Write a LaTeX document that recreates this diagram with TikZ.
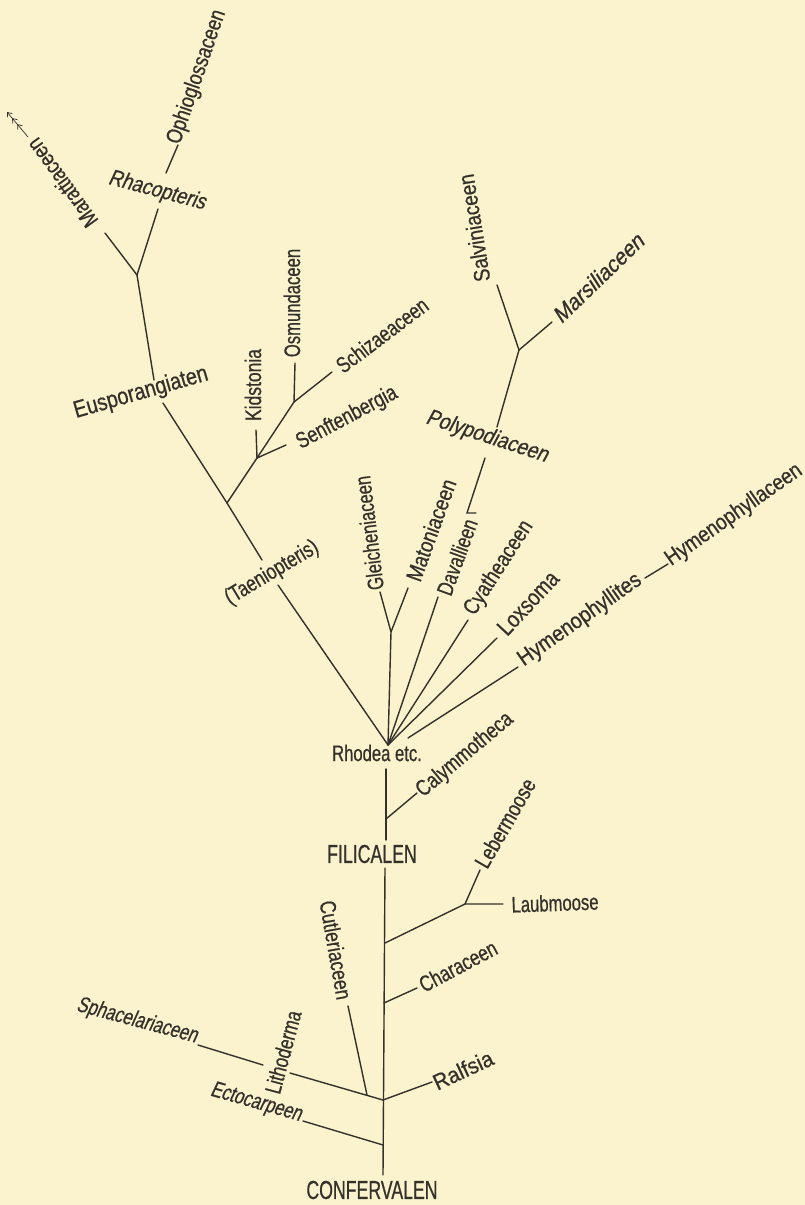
\documentclass[tikz,border=0pt]{standalone}
\usepackage{fontspec}
\setmainfont{Liberation Sans}[FakeStretch=0.74,FakeBold=0.6]
\newfontfamily\slfam{Liberation Sans}[FakeStretch=0.74,FakeSlant=0.16,FakeBold=0.6]
\usetikzlibrary{arrows.meta}
\definecolor{paper}{RGB}{250,243,206}
\definecolor{ink}{RGB}{52,48,42}
\begin{document}
\begin{tikzpicture}[x=1pt,y=-1pt,
  br/.style={draw=ink,line width=1.4pt,line cap=round},
  lab/.style={inner sep=0pt,outer sep=0pt,text=ink,font=\fontsize{22.5}{25}\selectfont},
  slab/.style={lab,font=\fontsize{22.5}{25}\selectfont\slfam},
  big/.style={lab,font=\fontsize{26}{29}\selectfont}]
\fill[paper] (0,0) rectangle (805,1205);
\useasboundingbox (0,0) rectangle (805,1205);

% ---------- coordinates ----------
\coordinate (t0) at (383,1175);
\coordinate (tEcto) at (383,1145);
\coordinate (tSph) at (383,1100);
\coordinate (tChar) at (384,1003);
\coordinate (tLaub) at (385,943);
\coordinate (tF1) at (385,868);
\coordinate (tF2) at (386,840);
\coordinate (tCaly) at (386,819);
\coordinate (tTop) at (386,769);
\coordinate (ecto) at (303,1121);
\coordinate (sphA) at (198,1045);
\coordinate (sphB) at (263,1065);
\coordinate (sphC) at (290,1073);
\coordinate (cutA) at (348,1006);
\coordinate (cutB) at (367,1095);
\coordinate (ralf) at (432,1082);
\coordinate (char) at (417,988);
\coordinate (mossF) at (465,904);
\coordinate (laub) at (503,904);
\coordinate (leber) at (480,870);
\coordinate (caly) at (417,793);
\coordinate (rh) at (388,745);
\coordinate (hyA) at (408,738);
\coordinate (hyB) at (518,667);
\coordinate (hyC) at (645,578);
\coordinate (hyD) at (668,564);
\coordinate (lox) at (497,638);
\coordinate (cya) at (468,620);
\coordinate (dav) at (438,597);
\coordinate (gF) at (391,632);
\coordinate (gl) at (380,592);
\coordinate (mat) at (408,588);
\coordinate (davT) at (476,513);
\coordinate (davT2) at (467,513);
\coordinate (pol1) at (485,458);
\coordinate (pol2) at (497,427);
\coordinate (sF) at (519,350);
\coordinate (salv) at (497,285);
\coordinate (mars) at (552,322);
\coordinate (taeA) at (278,585);
\coordinate (taeB) at (262,560);
\coordinate (kJ) at (227,503);
\coordinate (eus) at (163,403);
\coordinate (kF) at (257,458);
\coordinate (oF) at (294,402);
\coordinate (schz) at (332,372);
\coordinate (kid) at (256,430);
\coordinate (senf) at (286,445);
\coordinate (osm) at (295,363);
\coordinate (eusT) at (154,380);
\coordinate (mF) at (137,275);
\coordinate (mar) at (105,233);
\coordinate (rhL) at (158,209);
\coordinate (rhU) at (166,173);
\coordinate (oph) at (178,145);
\coordinate (arA) at (28,137);
\coordinate (arB) at (7,112);

% ---------- labels ----------
\node[lab,rotate=126,xscale=1.08] (marat) at (62,183) {Marattiaceen};
\node[lab,rotate=71,xscale=1.09] (ophio) at (197,77) {Ophioglossaceen};
\node[slab,rotate=-15,xscale=1.12] (rhaco) at (157,191) {Rhacopteris};
\node[lab,rotate=16,scale=1.06,xscale=1.12] (eusp) at (141,393) {Eusporangiaten};
\node[lab,rotate=90,xscale=1.05] (kidst) at (253,385) {Kidstonia};
\node[lab,rotate=90] (osmun) at (292,303) {Osmundaceen};
\node[lab,rotate=37,xscale=1.04] (schiz) at (382,335) {Schizaeaceen};
\node[lab,rotate=28,xscale=1.07] (senft) at (347,418) {Senftenbergia};
\node[lab,rotate=99,xscale=1.15] (salvi) at (474,228) {Salviniaceen};
\node[slab,rotate=44,xscale=1.25] (marsi) at (598,278) {Marsiliaceen};
\node[slab,rotate=-18,xscale=1.16] (polyp) at (487,437) {Polypodiaceen};
\node[lab,rotate=31,xscale=1.04] (taeni) at (272,573) {(Taeniopteris)};
\node[lab,rotate=97] (gleich) at (369,533) {Gleicheniaceen};
\node[lab,rotate=70,xscale=1.12] (maton) at (431,530) {Matoniaceen};
\node[lab,rotate=70,xscale=1.02] (daval) at (457,557) {Davallieen};
\node[lab,rotate=57,xscale=1.1] (cyath) at (499,568) {Cyatheaceen};
\node[lab,rotate=47,scale=1.05,xscale=1.1] (loxso) at (528,603) {Loxsoma};
\node[lab,rotate=35,xscale=1.19] (hymit) at (580,620) {Hymenophyllites};
\node[lab,rotate=35,xscale=1.14] (hymac) at (734,515) {Hymenophyllaceen};
\node[lab] (rhod) at (377,753) {Rhodea etc.};
\node[lab,rotate=40,xscale=1.07] (calym) at (465,755) {Calymmotheca};
\node[big,xscale=0.92] (fili) at (372,854) {FILICALEN};
\node[lab,rotate=60,xscale=1.07] (lebm) at (505,823) {Lebermoose};
\node[lab,rotate=2] (laubm) at (555,903) {Laubmoose};
\node[lab,rotate=28,xscale=1.04] (chara) at (458,966) {Characeen};
\node[lab,rotate=25,xscale=1.25] (ralfs) at (463,1070) {Ralfsia};
\node[lab,rotate=-80,xscale=1.07] (cutle) at (336,950) {Cutleriaceen};
\node[lab,rotate=75,xscale=1.02] (litho) at (283,1052) {Lithoderma};
\node[slab,rotate=-15] (sphac) at (137,1021) {Sphacelariaceen};
\node[slab,rotate=-16] (ectoc) at (256,1103) {Ectocarpeen};
\node[big,xscale=0.92] (conf) at (372,1190) {CONFERVALEN};

% ---------- branches ----------
\draw[br] (t0) -- (tF1);
\draw[br] (tF2) -- (tTop);
\draw[br] (ecto) -- (tEcto);
\draw[br] (sphA) -- (sphB);
\draw[br] (sphC) -- (tSph);
\draw[br] (cutA) -- (cutB);
\draw[br] (tSph) -- (ralf);
\draw[br] (tChar) -- (char);
\draw[br] (tLaub) -- (mossF) -- (laub);
\draw[br] (mossF) -- (leber);
\draw[br] (tCaly) -- (caly);
\draw[br] (taeA) -- (rh);
\draw[br] (rh) -- (gF) -- (gl);
\draw[br] (gF) -- (mat);
\draw[br] (rh) -- (dav);
\draw[br] (rh) -- (cya);
\draw[br] (rh) -- (lox);
\draw[br] (hyA) -- (hyB);
\draw[br] (hyC) -- (hyD);
\draw[br] (davT) -- (davT2) -- (pol1);
\draw[br] (pol2) -- (sF) -- (salv);
\draw[br] (sF) -- (mars);
\draw[br] (taeB) -- (kJ) -- (eus);
\draw[br] (kJ) -- (kF) -- (oF) -- (schz);
\draw[br] (kF) -- (kid);
\draw[br] (kF) -- (senf);
\draw[br] (oF) -- (osm);
\draw[br] (eusT) -- (mF) -- (mar);
\draw[br] (mF) -- (rhL);
\draw[br] (rhU) -- (oph);
\draw[draw=ink,line width=0.7pt,-{Straight Barb[length=4pt,width=6pt,sep=3pt]Straight Barb[length=4pt,width=6pt,sep=3pt]Straight Barb[length=4pt,width=6pt]}] (arA) -- (arB);
\end{tikzpicture}
\end{document}
